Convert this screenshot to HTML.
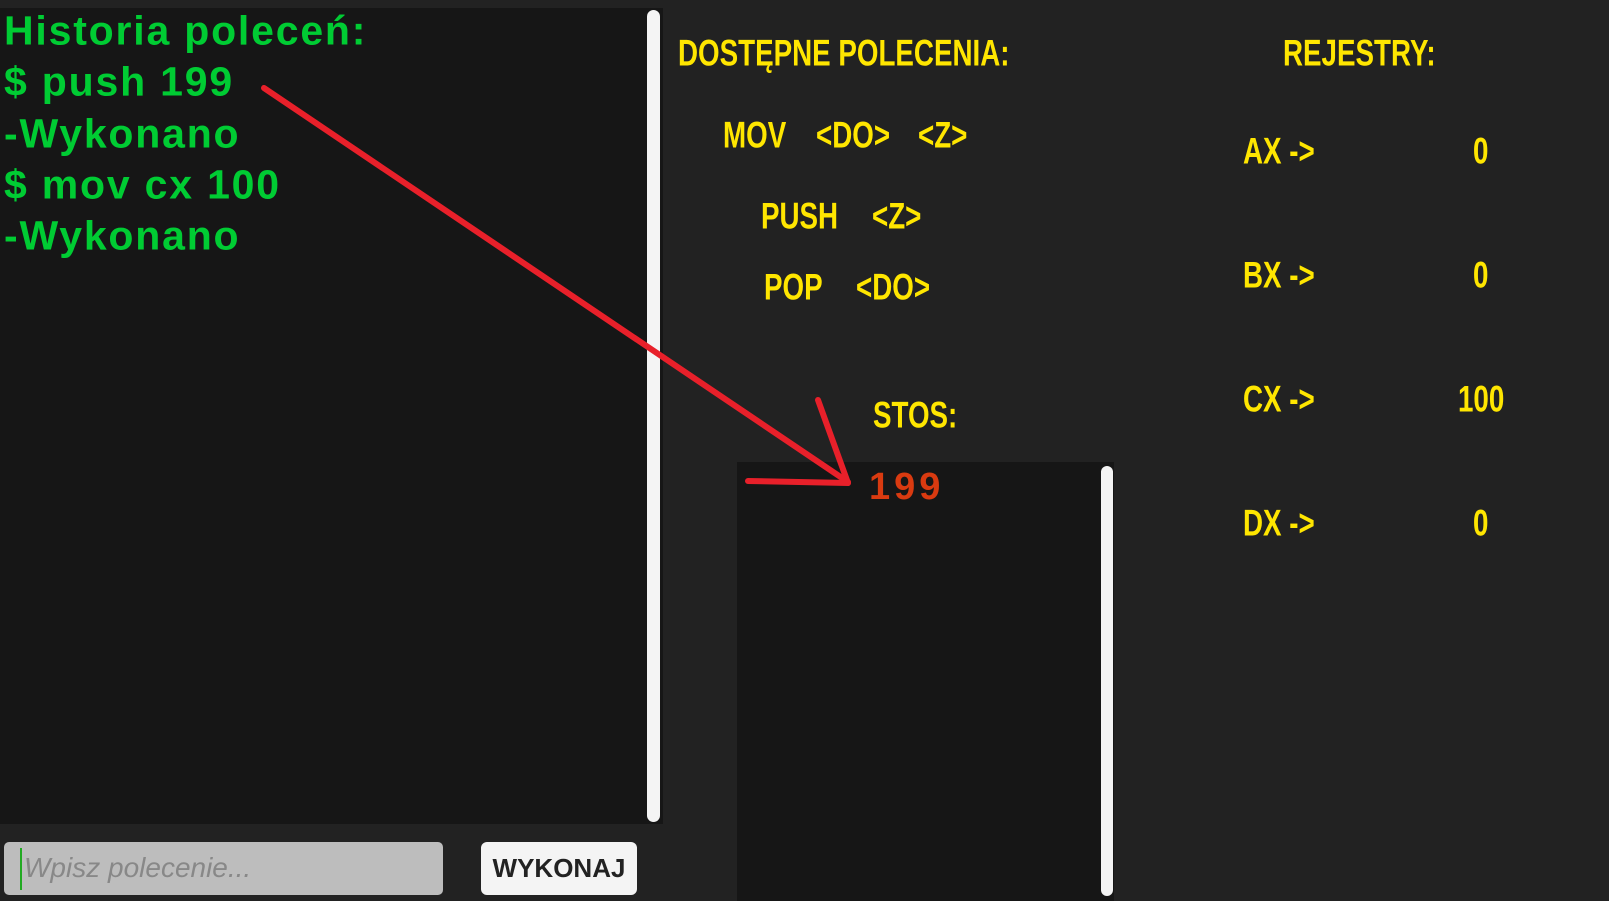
<!DOCTYPE html>
<html><head><style>
body{margin:0;width:1609px;height:901px;background:#222;position:relative;overflow:hidden;font-family:"Liberation Sans",sans-serif}
.a{position:absolute;white-space:nowrap}
.g{color:#0c3;font-weight:bold;font-size:41px;left:4px;line-height:1;letter-spacing:1.8px;transform:translateY(-50%)}
.y{color:#ffe600;font-weight:bold;font-size:37px;line-height:1;transform:translateY(-50%) scaleX(.75);transform-origin:left center}
</style></head><body>
<div class="a" style="left:0;top:8px;width:663px;height:816px;background:#161616"></div>
<div class="a" style="left:647px;top:10px;width:13px;height:812px;background:#f4f4f4;border-radius:7px"></div>
<div class="a" style="left:737px;top:462px;width:377px;height:439px;background:#161616"></div>
<div class="a" style="left:1101px;top:466px;width:12px;height:430px;background:#f4f4f4;border-radius:6px"></div>
<div class="a" style="left:4px;top:842px;width:439px;height:53px;background:#bdbdbd;border-radius:5px"></div>
<div class="a" style="left:20px;top:848px;width:2px;height:42px;background:#2a2"></div>
<div class="a" style="left:24px;top:852px;font-size:28px;font-style:italic;color:#888">Wpisz polecenie...</div>
<div class="a" style="left:481px;top:842px;width:156px;height:53px;background:#f4f4f4;border-radius:6px;text-align:center;line-height:53px;font-weight:bold;font-size:26px;color:#222">WYKONAJ</div>
<div class="a g" style="top:31px">Historia poleceń:</div>
<div class="a g" style="top:82px">$ push 199</div>
<div class="a g" style="top:134px">-Wykonano</div>
<div class="a g" style="top:185px">$ mov cx 100</div>
<div class="a g" style="top:236px">-Wykonano</div>
<div class="a y" style="left:678px;top:53px">DOSTĘPNE POLECENIA:</div>
<div class="a y" style="left:1283px;top:53px">REJESTRY:</div>
<div class="a y" style="left:723px;top:135px">MOV</div>
<div class="a y" style="left:816px;top:135px">&lt;DO&gt;</div>
<div class="a y" style="left:918px;top:135px">&lt;Z&gt;</div>
<div class="a y" style="left:761px;top:216px">PUSH</div>
<div class="a y" style="left:872px;top:216px">&lt;Z&gt;</div>
<div class="a y" style="left:764px;top:287px">POP</div>
<div class="a y" style="left:856px;top:287px">&lt;DO&gt;</div>
<div class="a y" style="left:873px;top:415px">STOS:</div>
<div class="a y" style="left:1243px;top:151px">AX -&gt;</div>
<div class="a y" style="left:1243px;top:275px">BX -&gt;</div>
<div class="a y" style="left:1243px;top:399px">CX -&gt;</div>
<div class="a y" style="left:1243px;top:523px">DX -&gt;</div>
<div class="a y" style="left:1473px;top:151px">0</div>
<div class="a y" style="left:1473px;top:275px">0</div>
<div class="a y" style="left:1458px;top:399px">100</div>
<div class="a y" style="left:1473px;top:523px">0</div>
<div class="a" style="left:869px;top:466px;color:#d93a10;font-weight:bold;font-size:38px;letter-spacing:4px">199</div>
<svg class="a" style="left:0;top:0" width="1609" height="901">
<g stroke="#e8202a" stroke-width="6" stroke-linecap="round" fill="none">
<line x1="264" y1="88" x2="848" y2="482"/>
<line x1="748" y1="481" x2="848" y2="483"/>
<line x1="818" y1="400" x2="848" y2="483"/>
</g></svg>
</body></html>
